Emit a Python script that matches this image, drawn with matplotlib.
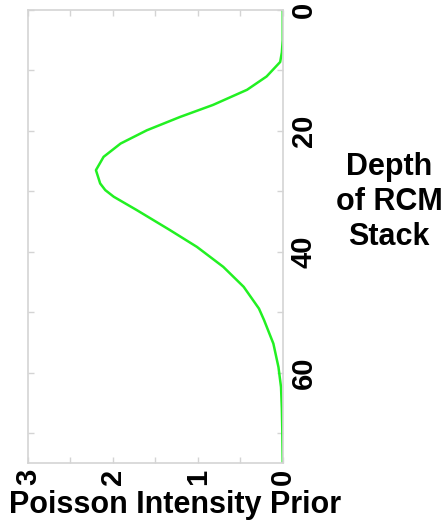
import numpy as np
import matplotlib.pyplot as plt

plt.rcParams['font.family'] = ['Liberation Sans', 'DejaVu Sans']

# depth in the RCM stack vs. prior intensity
depth = [0, 5, 7, 8.6, 11.0, 13.2, 15.7, 17.7, 19.9, 22.1, 24.3, 26.5, 28.7,
         29.8, 30.9, 33.1, 36.4, 39.2, 42.5, 45.8, 48.0, 49.4, 51.3, 55.2,
         59.1, 62.4, 66.0, 69.5, 75]
intensity = [0, 0, 0.01, 0.03, 0.19, 0.42, 0.82, 1.21, 1.60, 1.91, 2.11, 2.20,
             2.15, 2.09, 1.99, 1.72, 1.33, 1.01, 0.70, 0.46, 0.35, 0.28, 0.22,
             0.11, 0.05, 0.02, 0.01, 0.005, 0]

xticks = [0, 1, 2, 3]
xminor = [0.5, 1.5, 2.5]
yticks = [0, 20, 40, 60]
yminor = [10, 30, 50, 70]

fig = plt.figure(figsize=(4.46, 5.29), dpi=100)
ax = fig.add_axes([0.0628, 0.1242, 0.5711, 0.8569])

ax.plot(intensity, depth, color='#22f022', lw=1.8)

ax.set_xlim(3, 0)
ax.set_ylim(75, 0)
ax.set_xticks(xticks)
ax.set_xticks(xminor, minor=True)
ax.set_yticks(yticks)
ax.set_yticks(yminor, minor=True)
ax.set_xticklabels([str(t) for t in xticks], rotation=90, fontsize=21,
                   fontweight='bold')
ax.set_yticklabels([str(t) for t in yticks], rotation=90, fontsize=21,
                   fontweight='bold', va='center')

ax.yaxis.tick_right()
gray = '#d4d4d4'
for s in ax.spines.values():
    s.set_color(gray)
    s.set_linewidth(1.2)
ax.tick_params(which='both', direction='in', length=4, color=gray, width=1,
               top=True, bottom=True, left=True, right=True,
               labelleft=False, labelright=True)
ax.tick_params(axis='x', pad=4)
ax.tick_params(axis='y', pad=5)

fig.text(175 / 446, 1 - 505 / 529, 'Poisson Intensity Prior', ha='center',
         va='center', fontsize=22, fontweight='bold')
fig.text(389 / 446, 1 - 202 / 529, 'Depth\nof RCM\nStack', ha='center',
         va='center', fontsize=22, fontweight='bold', multialignment='center')

fig.savefig('out.png', dpi=100)
